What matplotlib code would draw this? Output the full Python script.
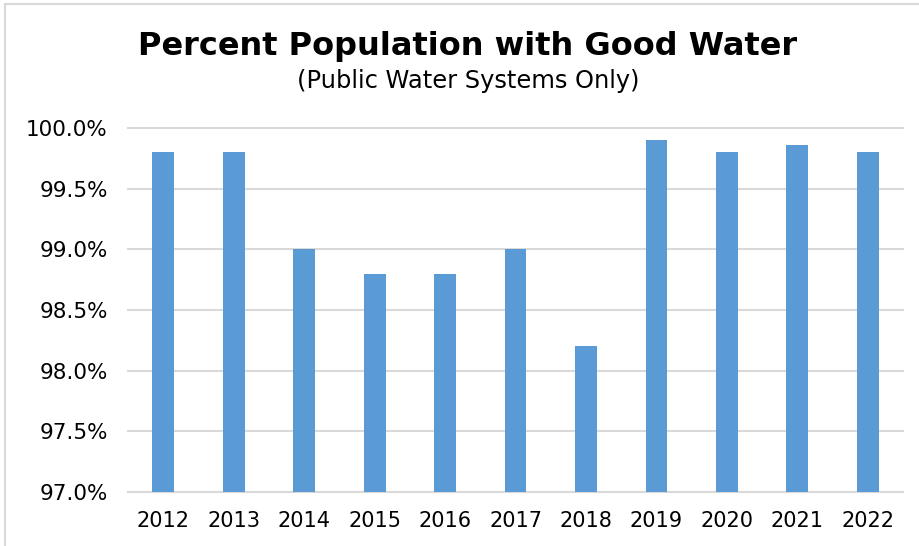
import matplotlib.pyplot as plt
from matplotlib.patches import Rectangle
from matplotlib.ticker import FuncFormatter

years = ['2012', '2013', '2014', '2015', '2016', '2017', '2018', '2019', '2020', '2021', '2022']
pct_good = [99.8, 99.8, 99.0, 98.8, 98.8, 99.0, 98.2, 99.9, 99.8, 99.86, 99.8]

fig = plt.figure(figsize=(9.19, 5.46), dpi=100)
ax = fig.add_axes([0.1393, 0.0989, 0.8433, 0.6667])

# light frame around the chart area
fig.patches.append(Rectangle((5 / 919, -0.1), 2, 1.1 - 4 / 546, transform=fig.transFigure,
                             fill=False, edgecolor='#d9d9d9', linewidth=1.5))

x = range(len(years))
ax.bar(x, pct_good, width=0.31, color='#5b9bd5', zorder=3)

ax.set_ylim(97.0, 100.0)
ax.set_xlim(-0.5, len(years) - 0.5)
ax.set_yticks([97.0, 97.5, 98.0, 98.5, 99.0, 99.5, 100.0])
ax.yaxis.set_major_formatter(FuncFormatter(lambda v, p: f'{v:.1f}%'))
ax.set_xticks(list(x))
ax.set_xticklabels(years)
ax.tick_params(axis='both', length=0, colors='black')
ax.tick_params(axis='y', labelsize=15.5, pad=14.5)
ax.tick_params(axis='x', labelsize=15, pad=14)

ax.grid(axis='y', color='#d9d9d9', linewidth=1.5, zorder=0)
for gl in ax.get_ygridlines():
    gl.set_clip_on(False)
for side in ['top', 'right', 'left']:
    ax.spines[side].set_visible(False)
ax.spines['bottom'].set_color('#d9d9d9')
ax.spines['bottom'].set_linewidth(1.5)

fig.text(0.509, 0.915, 'Percent Population with Good Water', ha='center', va='center',
         fontsize=23, fontweight='bold')
fig.text(0.509, 0.852, '(Public Water Systems Only)', ha='center', va='center', fontsize=17.4)

fig.savefig('out.png', dpi=100)
